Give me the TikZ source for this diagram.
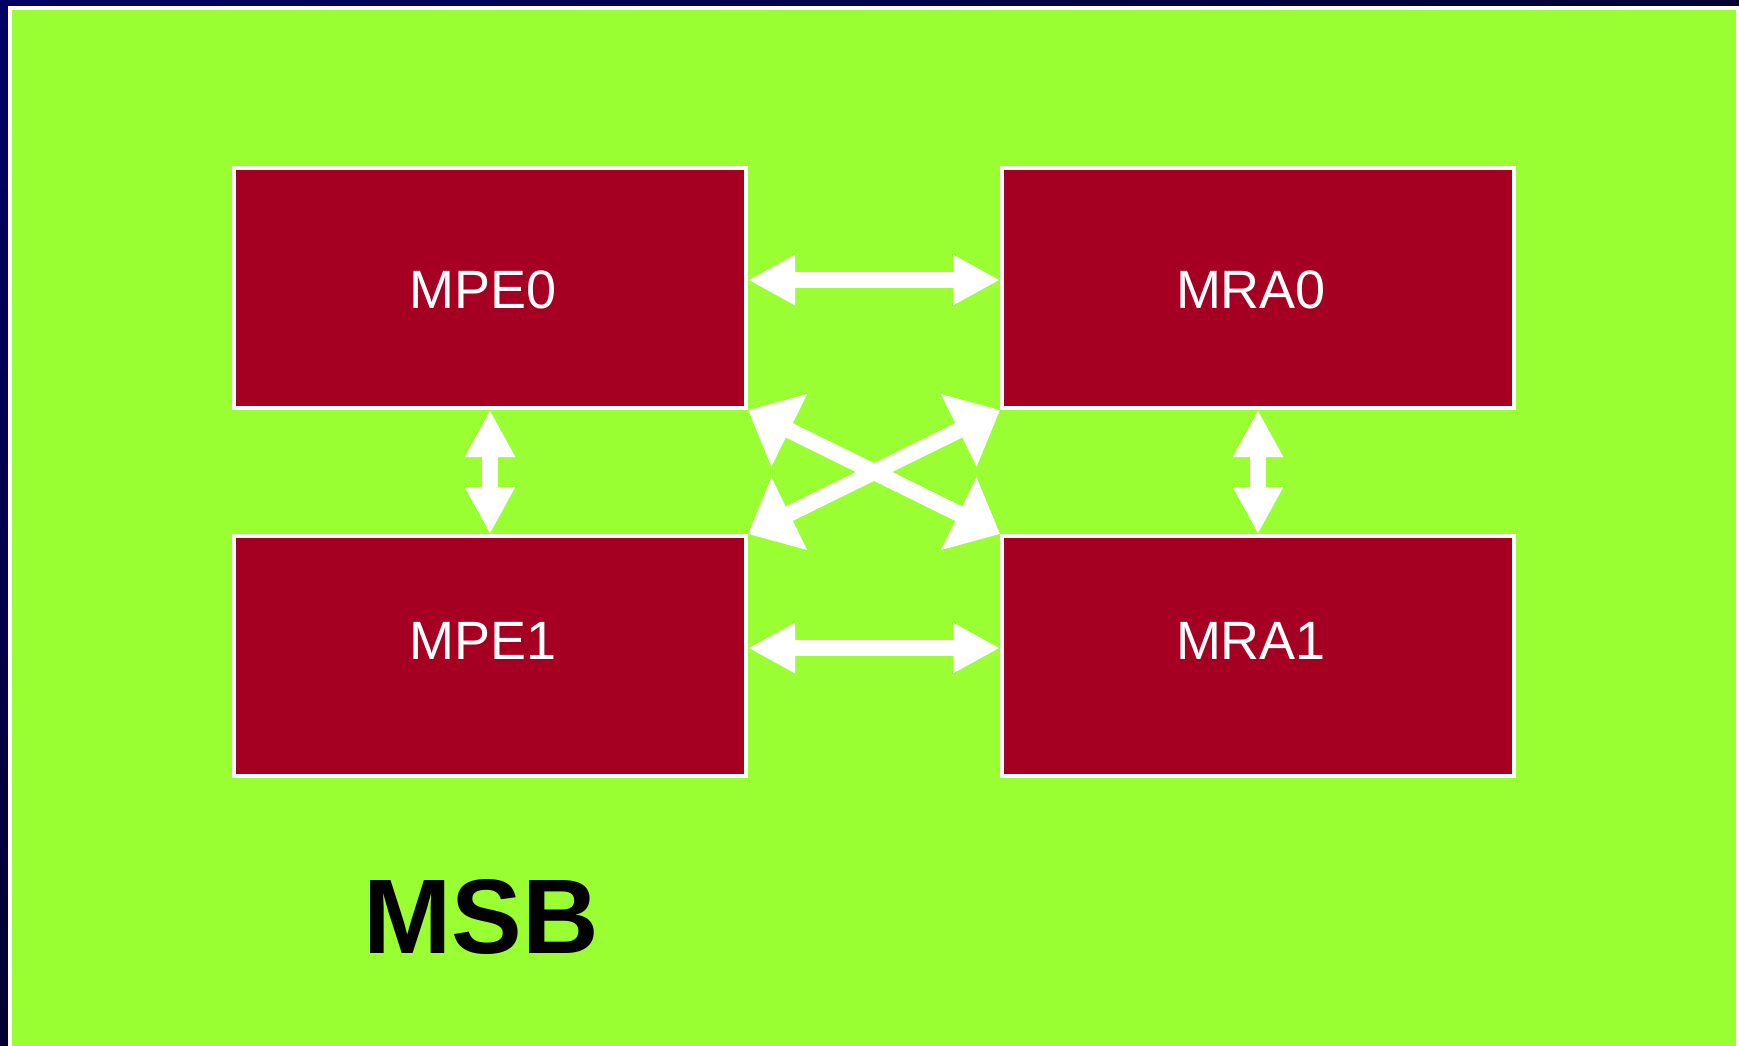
\documentclass[tikz,border=0pt]{standalone}
\usepackage{fontspec}
\setmainfont{Liberation Sans}
\usetikzlibrary{arrows.meta,shadings}

\definecolor{navytl}{RGB}{0,0,102}
\definecolor{navytr}{RGB}{0,0,52}
\definecolor{navybl}{RGB}{0,0,50}
\definecolor{navybr}{RGB}{0,0,46}
\definecolor{panelgreen}{RGB}{153,255,51}
\definecolor{unitred}{RGB}{165,0,34}

\tikzset{
  unitbox/.style={draw=white, line width=4pt, fill=unitred,
    minimum width=512pt, minimum height=240pt, inner sep=0pt},
  unitlabel/.style={text=white, inner sep=0pt,
    font=\fontsize{54}{54}\selectfont},
  flatlink/.style={draw=white, line width=16pt,
    {Triangle[length=47pt,width=47pt]}-{Triangle[length=47pt,width=47pt]}},
  crosslink/.style={draw=white, line width=16pt,
    {Triangle[length=46pt,width=78pt]}-{Triangle[length=46pt,width=78pt]}},
}

\begin{document}
\begin{tikzpicture}[x=1pt,y=-1pt]
\useasboundingbox (0,0) rectangle (1739,1045);

% slide background
\shade[upper left=navytl, upper right=navytr, lower left=navybl, lower right=navybr]
  (0,0) rectangle (1739,1045);

% green panel with white rim
\draw[white, line width=4pt, fill=panelgreen] (10,8) rectangle (1738,1070);

% the four units
\node[unitbox, label={[unitlabel, xshift=-7pt, yshift=-2pt]center:MPE0}] (mpe0) at (490,288) {};
\node[unitbox, label={[unitlabel, xshift=-7pt, yshift=-2pt]center:MRA0}] (mra0) at (1258,288) {};
\node[unitbox, label={[unitlabel, xshift=-7pt, yshift=15pt]center:MPE1}] (mpe1) at (490,656) {};
\node[unitbox, label={[unitlabel, xshift=-7pt, yshift=15pt]center:MRA1}] (mra1) at (1258,656) {};

% links between units
\draw[flatlink] ([yshift=8pt]mpe0.east) -- ([yshift=8pt]mra0.west);
\draw[flatlink] ([yshift=8pt]mpe1.east) -- ([yshift=8pt]mra1.west);
\draw[flatlink] (mpe0.south) -- (mpe1.north);
\draw[flatlink] (mra0.south) -- (mra1.north);
\draw[crosslink] (mpe0.south east) -- (mra1.north west);
\draw[crosslink] (mra0.south west) -- (mpe1.north east);

% board name
\node[anchor=base west, inner sep=0pt, font=\bfseries\fontsize{106}{106}\selectfont] (msb) at (363,953) {MSB};
\end{tikzpicture}
\end{document}
